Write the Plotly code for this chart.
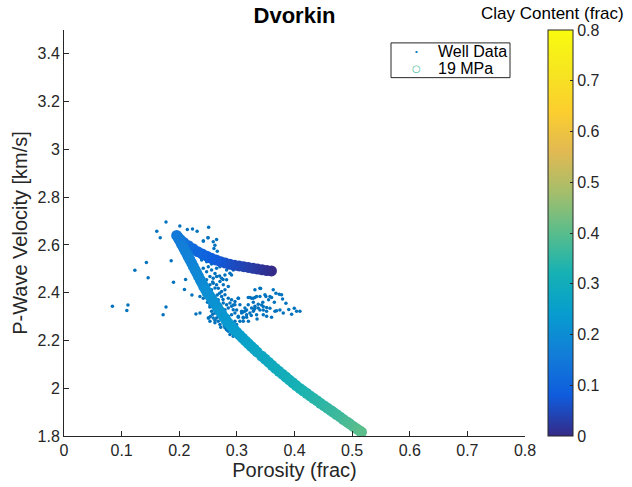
import plotly.graph_objects as go

# ---------------- data ----------------
# Well data (porosity, P-wave velocity)
well_phi = [
    0.084, 0.111, 0.109, 0.123, 0.143, 0.146, 0.161, 0.167, 0.177, 0.186, 0.190, 0.177, 0.172,
    0.201, 0.214, 0.223, 0.231, 0.251, 0.250, 0.242, 0.211, 0.209, 0.222, 0.229, 0.236, 0.251, 0.243,
    0.2417, 0.2498, 0.2590, 0.2619, 0.2648, 0.2602, 0.2660, 0.2561, 0.2619,
    0.2388, 0.2475, 0.2417, 0.2504, 0.2475, 0.2561, 0.2648, 0.2706, 0.2764, 0.2822, 0.2880, 0.2937,
    0.2908, 0.2793, 0.2735, 0.2648, 0.2590, 0.2533, 0.2475, 0.2533, 0.2590, 0.2648, 0.2706, 0.2764,
    0.2822, 0.2677, 0.2735, 0.2793, 0.2851, 0.2561, 0.2504, 0.2446, 0.2388, 0.2359, 0.2417, 0.2504,
    0.2561, 0.2619, 0.2677, 0.2735, 0.2793, 0.2851, 0.2908, 0.2880, 0.2822, 0.2764, 0.2706, 0.2648,
    0.2590, 0.2533, 0.2561, 0.2619, 0.2677, 0.2735, 0.2793, 0.2851, 0.2908, 0.2937, 0.2966, 0.2908,
    0.2851, 0.2793, 0.2735, 0.2677, 0.2619, 0.2648, 0.2590, 0.2533, 0.2504, 0.2706, 0.2764, 0.2822,
    0.2880, 0.2793, 0.2851, 0.2937, 0.2995, 0.3053, 0.3111, 0.3024, 0.3082, 0.3140, 0.3197, 0.3255,
    0.3313, 0.3371, 0.3169, 0.3226, 0.3284, 0.3342, 0.3226, 0.3313, 0.3400, 0.3024, 0.3053, 0.2966,
    0.2908, 0.2966, 0.2880, 0.2937, 0.2995,
    0.262, 0.268, 0.272, 0.258, 0.266, 0.270, 0.276, 0.264, 0.258, 0.268, 0.274, 0.280, 0.284, 0.286,
    0.278, 0.290, 0.292, 0.296, 0.300, 0.253, 0.249, 0.256, 0.262, 0.258, 0.262, 0.256, 0.266, 0.270,
    0.276, 0.254, 0.262, 0.272, 0.282, 0.304, 0.308,
    0.3198, 0.3256, 0.3285, 0.3314, 0.3400, 0.3487, 0.3504, 0.3574, 0.3602, 0.3631, 0.3412, 0.3678,
    0.3735, 0.3776, 0.3793, 0.3851, 0.3805, 0.3996, 0.4036, 0.4094, 0.3371, 0.3429, 0.3458, 0.3516,
    0.3574, 0.3313, 0.3400, 0.3458, 0.3516, 0.3660, 0.3689, 0.3747, 0.3169, 0.3140, 0.3111, 0.3082,
    0.3025, 0.3111, 0.3169, 0.3285, 0.3342, 0.3458, 0.3516, 0.3602, 0.3111, 0.2996, 0.2938, 0.2967,
    0.3025, 0.345, 0.355, 0.365, 0.390, 0.395, 0.330, 0.335, 0.320, 0.325,
]
well_vp = [
    2.343, 2.349, 2.325, 2.494, 2.526, 2.463, 2.657, 2.630, 2.696, 2.534, 2.444, 2.340, 2.308,
    2.679, 2.665, 2.667, 2.657, 2.674, 2.630, 2.616, 2.455, 2.413, 2.390, 2.311, 2.315, 2.294, 2.391,
    2.616, 2.630, 2.613, 2.599, 2.623, 2.585, 2.574, 2.558, 2.551,
    2.537, 2.530, 2.502, 2.509, 2.488, 2.495, 2.502, 2.509, 2.516, 2.495, 2.481, 2.495,
    2.474, 2.474, 2.461, 2.468, 2.461, 2.468, 2.454, 2.433, 2.440, 2.433, 2.447, 2.433,
    2.454, 2.419, 2.405, 2.412, 2.426, 2.412, 2.419, 2.405, 2.419, 2.384, 2.377, 2.371,
    2.377, 2.364, 2.371, 2.384, 2.391, 2.377, 2.371, 2.357, 2.350, 2.357, 2.350, 2.336,
    2.343, 2.350, 2.322, 2.315, 2.308, 2.322, 2.329, 2.336, 2.343, 2.329, 2.315, 2.308,
    2.301, 2.294, 2.287, 2.281, 2.274, 2.294, 2.294, 2.281, 2.294, 2.267, 2.274, 2.260,
    2.253, 2.253, 2.239, 2.246, 2.267, 2.281, 2.294, 2.301, 2.322, 2.336, 2.350, 2.336,
    2.343, 2.336, 2.308, 2.315, 2.377, 2.384, 2.380, 2.412, 2.419, 2.377, 2.350, 2.350,
    2.274, 2.281, 2.225, 2.218, 2.232,
    2.355, 2.345, 2.335, 2.365, 2.390, 2.398, 2.372, 2.325, 2.310, 2.300, 2.312, 2.306, 2.288, 2.270,
    2.262, 2.262, 2.238, 2.226, 2.215, 2.340, 2.360, 2.395, 2.420, 2.445, 2.480, 2.520, 2.540, 2.470,
    2.455, 2.300, 2.285, 2.255, 2.245, 2.205, 2.198,
    2.380, 2.377, 2.360, 2.380, 2.384, 2.391, 2.384, 2.384, 2.380, 2.412, 2.418, 2.398,
    2.394, 2.391, 2.374, 2.356, 2.315, 2.335, 2.322, 2.322, 2.352, 2.349, 2.342, 2.338,
    2.335, 2.335, 2.328, 2.328, 2.322, 2.322, 2.324, 2.328, 2.328, 2.322, 2.319, 2.315,
    2.297, 2.297, 2.297, 2.322, 2.308, 2.308, 2.301, 2.297, 2.280, 2.328, 2.349, 2.363,
    2.377, 2.360, 2.370, 2.360, 2.330, 2.310, 2.330, 2.290, 2.280, 2.305,
]

# Dvorkin model at 19 MPa: porosity, velocity, clay content
model_phi = [
    0.360, 0.352, 0.344, 0.336, 0.328, 0.320, 0.312, 0.304, 0.296, 0.288, 0.280, 0.272, 0.264,
    0.256, 0.248, 0.240, 0.232, 0.224, 0.216, 0.208, 0.202, 0.198,
    0.1955, 0.1985, 0.2015, 0.2045, 0.2075, 0.2105, 0.2135, 0.2156, 0.2185, 0.2215, 0.2245, 0.2275,
    0.2305, 0.2335, 0.2365, 0.2395, 0.2425, 0.2458,
    0.2490, 0.2525, 0.2560, 0.2595, 0.2630, 0.2665, 0.2700, 0.2740, 0.2780, 0.2815, 0.2850,
    0.2900, 0.2950, 0.3000, 0.3050, 0.3100, 0.3150, 0.3200, 0.3250, 0.3300, 0.3350, 0.3429,
    0.3490, 0.3550, 0.3610, 0.3670, 0.3730, 0.3790, 0.3850, 0.3910, 0.3970, 0.4030, 0.4093,
    0.4150, 0.4210, 0.4270, 0.4330, 0.4390, 0.4450, 0.4510, 0.4570, 0.4630, 0.4670,
    0.4730, 0.4790, 0.4850, 0.4910, 0.4960, 0.5020, 0.5080, 0.5130, 0.5163,
]
model_vp = [
    2.491, 2.493, 2.496, 2.499, 2.502, 2.506, 2.509, 2.512, 2.515, 2.519, 2.524, 2.530, 2.537,
    2.544, 2.553, 2.562, 2.572, 2.584, 2.597, 2.610, 2.622, 2.632,
    2.640, 2.628, 2.615, 2.601, 2.588, 2.574, 2.561, 2.551, 2.538, 2.524, 2.510, 2.496,
    2.482, 2.468, 2.454, 2.440, 2.426, 2.412,
    2.400, 2.388, 2.376, 2.363, 2.350, 2.337, 2.324, 2.310, 2.296, 2.284, 2.273,
    2.260, 2.247, 2.234, 2.222, 2.210, 2.198, 2.187, 2.175, 2.164, 2.152, 2.135,
    2.122, 2.109, 2.096, 2.083, 2.071, 2.059, 2.047, 2.035, 2.023, 2.011, 1.999,
    1.989, 1.979, 1.968, 1.958, 1.948, 1.937, 1.927, 1.917, 1.907, 1.900,
    1.890, 1.880, 1.869, 1.859, 1.851, 1.840, 1.830, 1.822, 1.816,
]
model_clay = [
    0.000, 0.006, 0.012, 0.018, 0.024, 0.030, 0.036, 0.042, 0.048, 0.055, 0.062, 0.069, 0.076,
    0.083, 0.090, 0.097, 0.104, 0.112, 0.120, 0.128, 0.135, 0.140,
    0.150, 0.153, 0.156, 0.159, 0.162, 0.165, 0.168, 0.170, 0.173, 0.176, 0.179, 0.182,
    0.185, 0.188, 0.191, 0.194, 0.197, 0.200,
    0.203, 0.206, 0.209, 0.212, 0.215, 0.218, 0.221, 0.224, 0.227, 0.230, 0.233,
    0.237, 0.241, 0.245, 0.249, 0.253, 0.257, 0.261, 0.265, 0.269, 0.273, 0.278,
    0.282, 0.286, 0.290, 0.294, 0.298, 0.302, 0.306, 0.310, 0.314, 0.318, 0.322,
    0.326, 0.330, 0.334, 0.338, 0.342, 0.346, 0.350, 0.354, 0.358, 0.361,
    0.365, 0.370, 0.375, 0.380, 0.384, 0.389, 0.394, 0.398, 0.402,
]

x_ticks = [0, 0.1, 0.2, 0.3, 0.4, 0.5, 0.6, 0.7, 0.8]
y_ticks = [1.8, 2.0, 2.2, 2.4, 2.6, 2.8, 3.0, 3.2, 3.4]
y_tick_text = ["1.8", "2", "2.2", "2.4", "2.6", "2.8", "3", "3.2", "3.4"]
x_tick_text = ["0", "0.1", "0.2", "0.3", "0.4", "0.5", "0.6", "0.7", "0.8"]
cb_ticks = [0, 0.1, 0.2, 0.3, 0.4, 0.5, 0.6, 0.7, 0.8]
cb_tick_text = ["0", "0.1", "0.2", "0.3", "0.4", "0.5", "0.6", "0.7", "0.8"]
legend_labels = ["Well Data", "19 MPa"]

parula = [
    [0.0, "rgb(53,42,135)"], [0.1, "rgb(15,92,221)"], [0.2, "rgb(18,125,216)"],
    [0.3, "rgb(7,156,207)"], [0.4, "rgb(21,177,180)"], [0.5, "rgb(89,189,140)"],
    [0.6, "rgb(165,190,107)"], [0.7, "rgb(225,185,82)"], [0.8, "rgb(252,206,46)"],
    [0.9, "rgb(246,230,32)"], [1.0, "rgb(249,251,14)"],
]

FONT = "Liberation Sans, Arial, Helvetica, sans-serif"
DARK = "#262626"

# plot-area geometry (pixels) used to place legend / colorbar label in paper coords
L, R, T, B = 64, 525, 30, 439
PW, PH = R - L, B - T


def px(xp):
    return (xp - L) / PW


def py(yp):
    return 1 - (yp - T) / PH


fig = go.Figure()

fig.add_trace(go.Scatter(
    x=well_phi, y=well_vp, mode="markers", name=legend_labels[0],
    marker=dict(size=3.5, color="#0072BD", line=dict(width=0)),
    showlegend=False,
))

fig.add_trace(go.Scatter(
    x=model_phi, y=model_vp, mode="markers", name=legend_labels[1],
    marker=dict(size=11, color=model_clay, colorscale=parula, cmin=0, cmax=0.8,
                line=dict(width=0),
                colorbar=dict(
                    x=1.0506, xanchor="left", y=0, yanchor="bottom",
                    len=1, lenmode="fraction", thickness=25, thicknessmode="pixels",
                    xpad=0, ypad=0, outlinecolor=DARK, outlinewidth=1,
                    tickvals=cb_ticks, ticktext=cb_tick_text, ticks="inside",
                    ticklen=3, tickcolor=DARK,
                    tickfont=dict(family=FONT, size=16, color=DARK),
                )),
    showlegend=False,
))

# hand-built legend box (MATLAB-style, compact)
shapes = [dict(type="rect", xref="paper", yref="paper",
               x0=px(391), x1=px(510), y0=py(78), y1=py(43),
               line=dict(color=DARK, width=1), fillcolor="white", layer="above")]

annotations = [
    dict(text="Clay Content (frac)", xref="paper", yref="paper",
         x=px(552), y=py(13), xanchor="center", yanchor="middle", showarrow=False,
         font=dict(family=FONT, size=17, color="black")),
    dict(text=legend_labels[0], xref="paper", yref="paper", x=px(436), y=py(51.5),
         xanchor="left", yanchor="middle", showarrow=False,
         font=dict(family=FONT, size=16, color="black")),
    dict(text=legend_labels[1], xref="paper", yref="paper", x=px(436), y=py(68.5),
         xanchor="left", yanchor="middle", showarrow=False,
         font=dict(family=FONT, size=16, color="black")),
    dict(text="•", xref="paper", yref="paper", x=px(416), y=py(51.5),
         xanchor="center", yanchor="middle", showarrow=False,
         font=dict(family=FONT, size=8, color="#0072BD")),
    dict(text="○", xref="paper", yref="paper", x=px(416), y=py(68.5),
         xanchor="center", yanchor="middle", showarrow=False,
         font=dict(family="DejaVu Sans", size=10, color="#3dbb9c")),
]

fig.update_layout(
    width=632, height=487,
    margin=dict(l=L, r=632 - R, t=T, b=487 - B),
    paper_bgcolor="white", plot_bgcolor="white",
    font=dict(family=FONT, color=DARK),
    showlegend=False,
    title=dict(text="<b>Dvorkin</b>", x=(294.5) / 632, xanchor="center",
               y=1 - 15 / 487, yanchor="middle",
               font=dict(family=FONT, size=22, color="black")),
    xaxis=dict(range=[0, 0.8], tickvals=x_ticks, ticktext=x_tick_text,
               showgrid=False, zeroline=False, showline=True, linecolor=DARK, linewidth=1,
               ticks="inside", ticklen=5, tickcolor=DARK,
               tickfont=dict(family=FONT, size=16, color=DARK),
               title=dict(text="Porosity (frac)", standoff=2,
                          font=dict(family=FONT, size=20, color=DARK))),
    yaxis=dict(range=[1.8, 3.5], tickvals=y_ticks, ticktext=y_tick_text,
               showgrid=False, zeroline=False, showline=True, linecolor=DARK, linewidth=1,
               ticks="inside", ticklen=5, tickcolor=DARK,
               tickfont=dict(family=FONT, size=16, color=DARK),
               title=dict(text="P-Wave Velocity [km/s]", standoff=4,
                          font=dict(family=FONT, size=20, color=DARK))),
    shapes=shapes,
    annotations=annotations,
)

fig.write_html("out.html")
